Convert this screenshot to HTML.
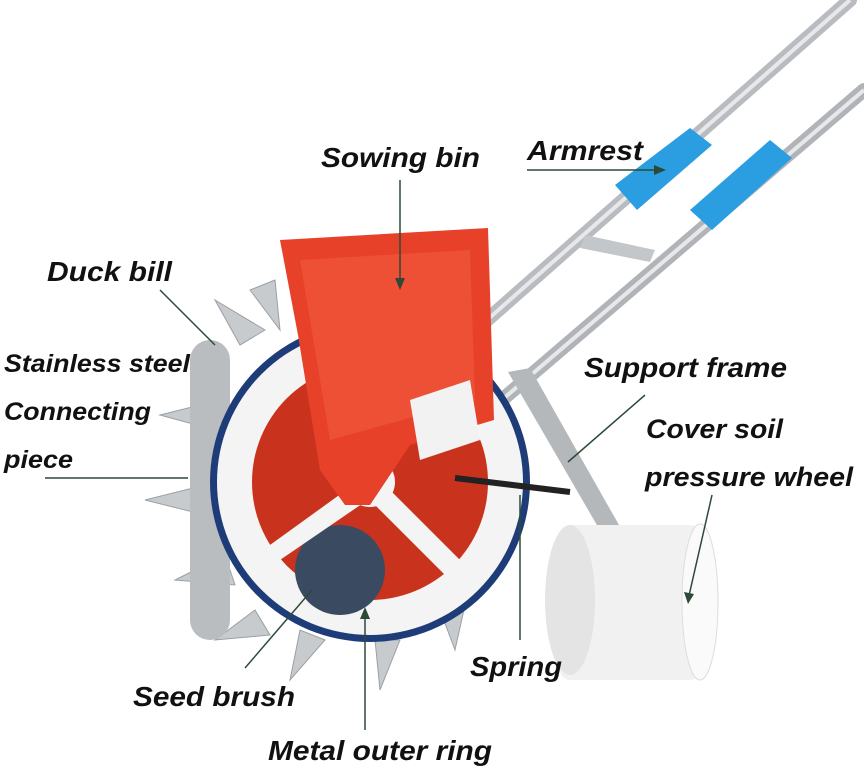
<!DOCTYPE html>
<html><head><meta charset="utf-8"><style>
html,body{margin:0;padding:0;background:#fff;}
svg{display:block;}
text{font-family:"Liberation Sans",sans-serif;font-weight:bold;font-style:italic;fill:#111;}
</style></head><body>
<svg width="864" height="771" viewBox="0 0 864 771" xmlns="http://www.w3.org/2000/svg">
<rect width="864" height="771" fill="#fff"/>
<line x1="470" y1="335" x2="850" y2="0" stroke="#b8bcc0" stroke-width="14" stroke-linecap="round"/>
<line x1="470" y1="335" x2="850" y2="0" stroke="#e6e8ea" stroke-width="4"/>
<line x1="420" y1="470" x2="864" y2="90" stroke="#b0b4b8" stroke-width="14" stroke-linecap="round"/>
<line x1="420" y1="470" x2="864" y2="90" stroke="#e6e8ea" stroke-width="4"/>
<polygon points="585,235 655,250 650,262 580,248" fill="#c4c7ca"/>
<polygon points="615,185 690,128 712,145 637,210" fill="#2a9ee0"/>
<polygon points="690,210 770,140 792,158 712,230" fill="#2a9ee0"/>
<polygon points="508,372 530,368 670,615 655,625" fill="#b5b8bb"/>
<rect x="560" y="525" width="140" height="155" rx="10" fill="#f1f1f1"/>
<ellipse cx="570" cy="600" rx="25" ry="75" fill="#e4e4e4"/>
<ellipse cx="700" cy="602" rx="18" ry="78" fill="#fafafa" stroke="#ddd"/>
<g fill="#c7cbce" stroke="#9aa0a5">
<polygon points="215,300 265,330 240,345"/>
<polygon points="160,415 220,400 215,430"/>
<polygon points="145,500 205,485 205,515"/>
<polygon points="175,580 225,555 235,585"/>
<polygon points="215,640 255,610 270,635"/>
<polygon points="290,680 300,630 325,640"/>
<polygon points="380,690 375,640 400,640"/>
<polygon points="455,650 440,610 465,605"/>
<polygon points="250,290 275,280 280,330"/>
</g>
<rect x="190" y="340" width="40" height="300" rx="20" fill="#b9bdc0"/>
<circle cx="370" cy="482" r="160" fill="#1e3c78"/>
<circle cx="370" cy="482" r="153" fill="#f4f4f4"/>
<circle cx="370" cy="482" r="118" fill="#c9331e"/>
<circle cx="340" cy="570" r="45" fill="#3a4a60"/>
<circle cx="370" cy="482" r="25" fill="#f4f4f4"/>
<polygon points="360,470 380,470 390,370 350,370" fill="#f4f4f4"/>
<polygon points="360,490 380,480 460,560 445,575" fill="#f4f4f4"/>
<polygon points="360,480 375,495 280,560 270,545" fill="#f4f4f4"/>
<polygon points="280,240 488,228 494,420 410,445 370,505 345,505 320,470 298,335" fill="#e8412a"/>
<polygon points="300,260 470,250 475,400 330,440" fill="#f05a3d" opacity="0.6"/>
<polygon points="410,400 470,380 480,440 420,460" fill="#f2f2f2"/>
<line x1="455" y1="478" x2="570" y2="492" stroke="#222" stroke-width="6"/>
<g stroke="#2d4a38" stroke-width="1.5" fill="none">
<line x1="400" y1="180" x2="400" y2="285"/>
<line x1="527" y1="170" x2="662" y2="170"/>
<line x1="160" y1="290" x2="215" y2="345"/>
<line x1="45" y1="478" x2="188" y2="478"/>
<line x1="645" y1="395" x2="568" y2="462"/>
<line x1="712" y1="495" x2="688" y2="600"/>
<line x1="520" y1="495" x2="520" y2="640"/>
<line x1="245" y1="668" x2="312" y2="590"/>
<line x1="365" y1="730" x2="365" y2="612"/>
</g>
<g fill="#2d4a38">
<polygon points="400,290 395,278 405,278"/>
<polygon points="666,170 654,165 654,175"/>
<polygon points="688,604 684,592 694,594"/>
<polygon points="365,607 360,619 370,619"/>
</g>
<g lengthAdjust="spacingAndGlyphs">
<text x="321" y="167" font-size="28" textLength="159" lengthAdjust="spacingAndGlyphs">Sowing bin</text>
<text x="527" y="160" font-size="28" textLength="116" lengthAdjust="spacingAndGlyphs">Armrest</text>
<text x="47" y="281" font-size="28" textLength="125" lengthAdjust="spacingAndGlyphs">Duck bill</text>
<text x="4" y="372" font-size="25" textLength="186" lengthAdjust="spacingAndGlyphs">Stainless steel</text>
<text x="4" y="420" font-size="25" textLength="147" lengthAdjust="spacingAndGlyphs">Connecting</text>
<text x="4" y="468" font-size="25" textLength="69" lengthAdjust="spacingAndGlyphs">piece</text>
<text x="584" y="377" font-size="28" textLength="203" lengthAdjust="spacingAndGlyphs">Support frame</text>
<text x="646" y="438" font-size="27" textLength="137" lengthAdjust="spacingAndGlyphs">Cover soil</text>
<text x="645" y="486" font-size="27" textLength="208" lengthAdjust="spacingAndGlyphs">pressure wheel</text>
<text x="470" y="676" font-size="28" textLength="92" lengthAdjust="spacingAndGlyphs">Spring</text>
<text x="133" y="706" font-size="28" textLength="162" lengthAdjust="spacingAndGlyphs">Seed brush</text>
<text x="268" y="760" font-size="28" textLength="224" lengthAdjust="spacingAndGlyphs">Metal outer ring</text>
</g>
</svg>
</body></html>
